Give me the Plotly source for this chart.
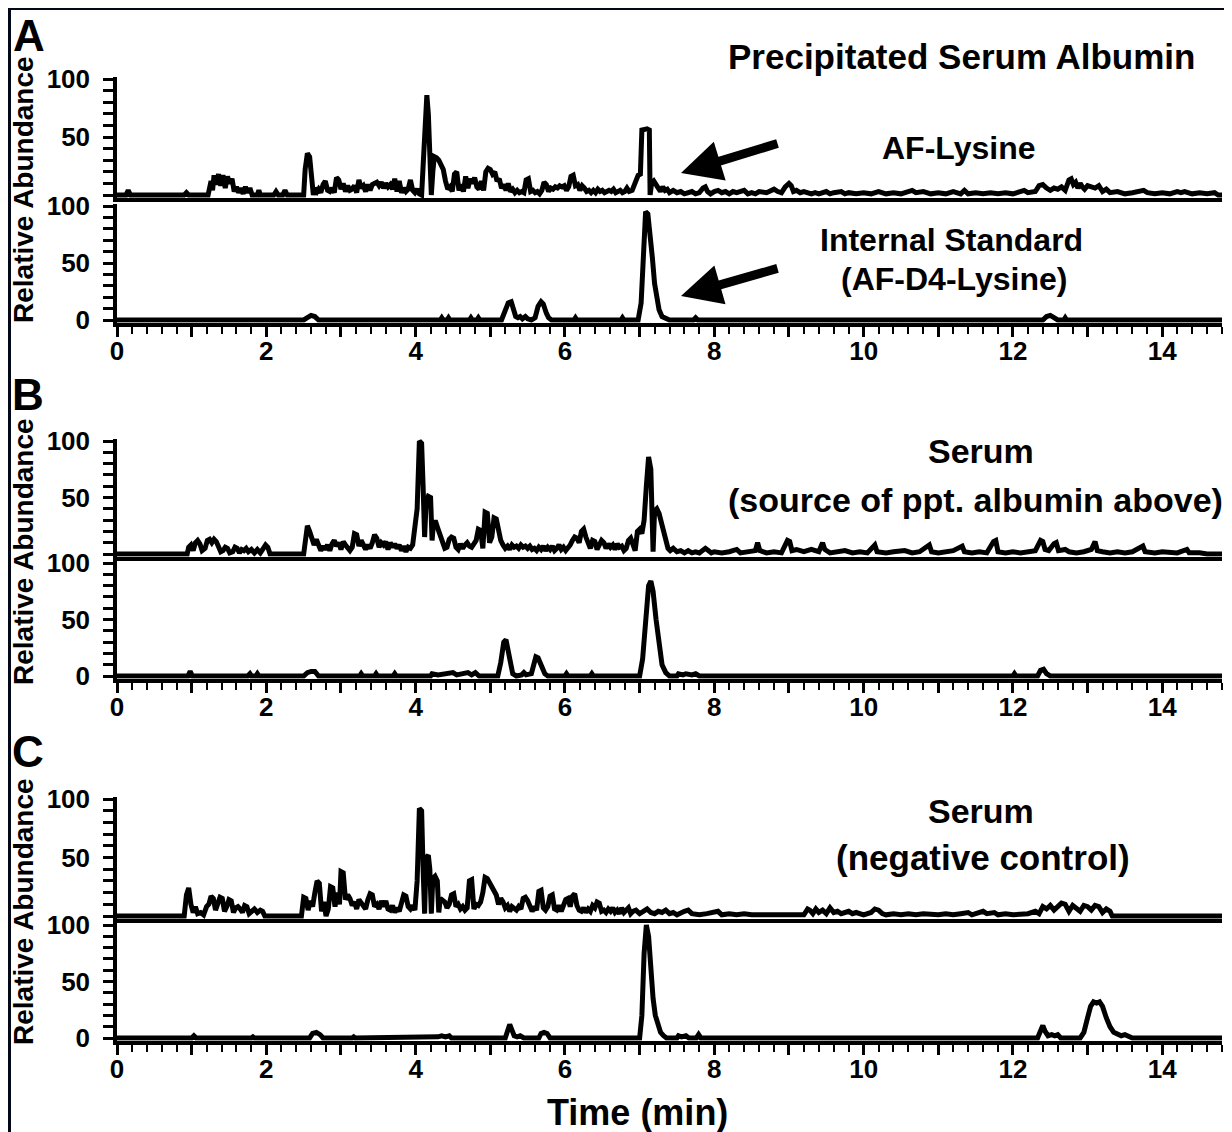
import plotly.graph_objects as go

# ---------------- data (time in min, relative abundance %) ----------------
A_analyte = [(0.0,0),(0.12,0),(0.15,4),(0.18,0),(0.9,0),(0.93,2),(0.96,0),(1.22,0),(1.26,12),(1.28,4),(1.3,17),(1.33,9),(1.36,18),
 (1.39,8),(1.42,17),(1.45,6),(1.48,16),(1.51,10),(1.54,14),(1.57,3),(1.6,7),(1.63,2),(1.66,6),(1.69,1),(1.72,7),(1.75,2),(1.78,6),
 (1.81,0),(1.88,0),(1.9,4),(1.92,0),(2.1,0),(2.13,3),(2.16,0),(2.22,0),(2.25,4),(2.28,0),(2.5,0),(2.52,22),(2.55,36),(2.58,33),
 (2.61,12),(2.63,0),(2.65,6),(2.68,3),(2.7,5),(2.73,2),(2.76,9),(2.79,12),(2.82,4),(2.85,3),(2.88,6),(2.91,2),(2.94,15),(2.97,13),
 (3.0,5),(3.03,10),(3.06,3),(3.09,8),(3.12,4),(3.15,5),(3.18,8),(3.21,2),(3.24,13),(3.27,6),(3.3,8),(3.33,3),(3.36,9),(3.39,4),
 (3.42,9),(3.45,10),(3.48,11),(3.51,8),(3.54,11),(3.57,6),(3.6,10),(3.63,7),(3.66,9),(3.69,5),(3.72,14),(3.75,3),(3.78,12),(3.81,2),
 (3.84,6),(3.87,3),(3.9,5),(3.93,13),(3.96,4),(3.99,2),(4.02,5),(4.05,1),(4.08,0),(4.1,25),(4.13,60),(4.15,86),(4.17,70),(4.19,40),
 (4.21,0),(4.23,20),(4.25,33),(4.28,32),(4.31,30),(4.34,26),(4.37,22),(4.4,12),(4.43,5),(4.46,7),(4.49,3),(4.52,18),(4.55,20),
 (4.58,4),(4.61,9),(4.64,3),(4.67,16),(4.7,6),(4.73,14),(4.76,10),(4.79,15),(4.82,7),(4.85,5),(4.88,12),(4.91,4),(4.94,20),(4.97,23),
 (5.0,22),(5.03,18),(5.06,20),(5.09,12),(5.12,14),(5.15,6),(5.18,9),(5.21,4),(5.24,10),(5.27,3),(5.3,5),(5.33,2),(5.36,4),(5.39,2),
 (5.42,3),(5.45,2),(5.48,13),(5.51,14),(5.54,3),(5.57,4),(5.6,2),(5.63,3),(5.66,1),(5.69,4),(5.72,11),(5.75,9),(5.78,3),(5.81,6),
 (5.84,5),(5.87,7),(5.9,6),(5.93,8),(5.96,7),(5.99,8),(6.02,4),(6.05,7),(6.08,16),(6.11,17),(6.14,8),(6.17,9),(6.2,4),(6.23,8),
 (6.26,6),(6.29,3),(6.32,4),(6.35,2),(6.38,4),(6.41,2),(6.44,5),(6.47,3),(6.5,4),(6.53,2),(6.56,3),(6.59,4),(6.62,3),(6.65,5),
 (6.68,2),(6.71,3),(6.74,4),(6.77,2),(6.8,3),(6.83,6),(6.86,3),(6.9,4),(6.95,12),(6.98,17),(7.01,18),(7.03,56),(7.1,57),(7.13,56),
 (7.14,0),(7.16,10),(7.19,12),(7.22,8),(7.25,6),(7.28,3),(7.31,7),(7.34,4),(7.37,5),(7.4,2),(7.45,4),(7.5,2),(7.55,3),(7.6,1),
 (7.7,3),(7.75,1),(7.8,2),(7.85,6),(7.88,7),(7.91,3),(7.95,1),(8.0,3),(8.05,4),(8.1,2),(8.15,3),(8.2,1),(8.25,3),(8.3,2),(8.4,4),
 (8.45,1),(8.5,2),(8.55,1),(8.6,3),(8.7,2),(8.8,5),(8.85,3),(8.9,2),(8.95,7),(9.0,10),(9.03,8),(9.06,3),(9.1,4),(9.15,2),(9.2,3),
 (9.3,1),(9.35,2),(9.4,1),(9.5,3),(9.55,1),(9.6,2),(9.7,3),(9.75,1),(9.8,2),(9.9,1),(10.0,2),(10.1,1),(10.2,3),(10.3,1),(10.4,2),
 (10.5,1),(10.6,3),(10.65,4),(10.7,2),(10.8,3),(10.9,1),(11.0,2),(11.1,1),(11.2,3),(11.3,1),(11.35,4),(11.4,1),(11.5,2),(11.6,1),
 (11.7,2),(11.8,1),(11.9,2),(12.0,1),(12.1,3),(12.15,4),(12.2,2),(12.3,3),(12.35,8),(12.4,9),(12.45,6),(12.5,4),(12.55,6),(12.6,5),
 (12.65,7),(12.7,4),(12.75,13),(12.78,14),(12.81,9),(12.84,11),(12.87,6),(12.9,10),(12.93,7),(12.96,5),(13.0,8),(13.05,7),(13.1,6),
 (13.15,8),(13.2,3),(13.25,5),(13.3,2),(13.4,3),(13.5,1),(13.6,2),(13.7,3),(13.75,4),(13.8,2),(13.9,1),(14.0,2),(14.1,1),(14.2,3),
 (14.25,2),(14.3,3),(14.4,1),(14.5,2),(14.6,1),(14.7,2),(14.75,0),(14.8,0)]

A_standard = [(0.0,0),(2.5,0),(2.55,2),(2.6,4),(2.65,3),(2.7,0),(4.33,0),(4.35,2),(4.37,0),(4.42,0),(4.44,2),(4.46,0),(4.72,0),
 (4.74,2),(4.76,0),(4.82,0),(4.84,2),(4.86,0),(5.15,0),(5.2,8),(5.24,15),(5.28,16),(5.31,10),(5.34,3),(5.37,2),(5.4,3),(5.43,1),
 (5.47,3),(5.5,1),(5.55,0),(5.6,2),(5.64,12),(5.68,16),(5.71,14),(5.75,6),(5.78,2),(5.82,0),(6.12,0),(6.14,2),(6.16,0),(6.75,0),
 (6.77,2),(6.79,0),(6.98,0),(7.02,15),(7.05,68),(7.08,95),(7.11,93),(7.14,78),(7.17,55),(7.2,32),(7.23,18),(7.26,9),(7.3,3),
 (7.35,1),(7.4,0),(7.72,0),(7.75,2),(7.78,0),(12.4,0),(12.45,3),(12.5,4),(12.55,2),(12.6,0),(12.68,0),(12.7,2),(12.72,0),(12.8,0),
 (12.82,1),(12.84,0),(14.8,0)]

B_analyte = [(0.0,0),(0.94,0),(0.96,6),(0.99,8),(1.02,3),(1.05,10),(1.08,12),(1.11,9),(1.14,3),(1.18,5),(1.21,12),(1.24,13),
 (1.27,10),(1.3,13),(1.33,11),(1.36,6),(1.39,2),(1.42,3),(1.45,6),(1.48,5),(1.51,1),(1.55,2),(1.58,6),(1.61,5),(1.64,1),(1.67,4),
 (1.7,3),(1.73,5),(1.76,2),(1.8,4),(1.84,1),(1.88,4),(1.92,1),(1.96,5),(1.99,8),(2.02,6),(2.05,0),(2.5,0),(2.52,12),(2.55,25),
 (2.58,20),(2.61,12),(2.64,8),(2.67,13),(2.7,6),(2.73,3),(2.76,7),(2.79,4),(2.82,8),(2.85,3),(2.88,9),(2.91,12),(2.94,7),(2.97,10),
 (3.0,4),(3.03,11),(3.06,8),(3.09,5),(3.12,3),(3.15,6),(3.18,18),(3.21,17),(3.24,7),(3.27,12),(3.3,9),(3.33,4),(3.36,8),(3.39,5),
 (3.42,10),(3.45,17),(3.48,14),(3.51,6),(3.54,10),(3.57,8),(3.6,11),(3.63,4),(3.66,10),(3.69,6),(3.72,9),(3.75,5),(3.78,8),(3.81,3),
 (3.84,7),(3.87,2),(3.9,6),(3.93,5),(3.96,8),(3.99,24),(4.02,40),(4.05,100),(4.08,98),(4.1,60),(4.12,15),(4.14,45),(4.17,51),
 (4.2,50),(4.22,12),(4.24,28),(4.27,28),(4.3,22),(4.33,15),(4.36,10),(4.39,5),(4.42,6),(4.45,13),(4.48,15),(4.51,14),(4.54,6),
 (4.57,4),(4.6,9),(4.63,5),(4.66,8),(4.69,10),(4.72,7),(4.75,6),(4.78,9),(4.81,12),(4.84,22),(4.87,21),(4.9,5),(4.93,37),(4.96,36),
 (4.99,10),(5.02,15),(5.05,32),(5.08,31),(5.11,20),(5.14,12),(5.17,8),(5.2,5),(5.23,7),(5.26,4),(5.29,8),(5.32,6),(5.35,7),(5.38,5),
 (5.41,8),(5.44,6),(5.47,7),(5.5,5),(5.53,7),(5.56,4),(5.59,5),(5.62,3),(5.65,6),(5.68,4),(5.71,7),(5.74,3),(5.77,6),(5.8,4),
 (5.83,7),(5.86,3),(5.89,5),(5.92,8),(5.95,4),(5.98,6),(6.01,3),(6.04,5),(6.07,8),(6.1,12),(6.13,15),(6.16,14),(6.19,10),(6.22,20),
 (6.25,22),(6.28,15),(6.31,8),(6.34,5),(6.37,12),(6.4,11),(6.43,4),(6.46,8),(6.49,12),(6.52,10),(6.55,5),(6.58,9),(6.61,6),(6.64,8),
 (6.67,4),(6.7,9),(6.73,6),(6.76,7),(6.79,3),(6.82,5),(6.85,12),(6.88,14),(6.91,8),(6.94,3),(6.97,20),(7.0,22),(7.03,18),(7.06,30),
 (7.09,60),(7.12,86),(7.15,75),(7.16,40),(7.18,2),(7.2,38),(7.23,40),(7.26,36),(7.29,28),(7.32,18),(7.35,10),(7.38,5),(7.41,3),
 (7.45,5),(7.5,2),(7.55,3),(7.6,1),(7.65,3),(7.7,1),(7.75,2),(7.8,1),(7.88,5),(7.92,3),(7.96,1),(8.0,2),(8.1,1),(8.2,2),(8.3,4),
 (8.35,1),(8.45,2),(8.55,3),(8.58,10),(8.61,3),(8.7,1),(8.8,2),(8.9,1),(8.98,12),(9.01,11),(9.04,3),(9.1,4),(9.2,2),(9.3,4),(9.4,2),
 (9.45,10),(9.48,4),(9.55,1),(9.65,2),(9.75,3),(9.85,1),(9.95,2),(10.05,1),(10.15,8),(10.18,2),(10.3,1),(10.4,2),(10.55,3),
 (10.65,1),(10.75,2),(10.88,8),(10.91,2),(11.0,1),(11.1,2),(11.2,3),(11.32,7),(11.35,2),(11.45,1),(11.55,2),(11.65,1),(11.74,11),
 (11.77,12),(11.8,2),(11.9,1),(12.0,2),(12.1,1),(12.2,2),(12.3,3),(12.37,12),(12.4,11),(12.43,4),(12.48,3),(12.55,9),(12.58,10),
 (12.61,3),(12.7,4),(12.75,2),(12.85,1),(12.95,2),(13.05,4),(13.1,11),(13.13,3),(13.2,2),(13.3,1),(13.4,2),(13.5,1),(13.6,2),
 (13.74,7),(13.77,2),(13.9,1),(14.0,2),(14.1,1),(14.2,1),(14.33,4),(14.36,1),(14.5,1),(14.6,0),(14.8,0)]

B_standard = [(0.0,0),(0.95,0),(0.98,4),(1.01,0),(1.75,0),(1.78,2),(1.8,0),(1.86,0),(1.88,2),(1.9,0),(2.5,0),(2.55,3),(2.6,4),
 (2.65,4),(2.7,0),(3.25,0),(3.27,2),(3.29,0),(3.45,0),(3.47,2),(3.49,0),(3.7,0),(3.72,2),(3.74,0),(4.2,0),(4.22,2),(4.3,1),(4.4,2),
 (4.5,3),(4.55,1),(4.6,2),(4.7,3),(4.75,1),(4.8,3),(4.85,0),(5.1,0),(5.14,12),(5.18,30),(5.21,32),(5.24,22),(5.27,8),(5.3,2),
 (5.35,0),(5.42,1),(5.45,3),(5.48,1),(5.55,2),(5.58,12),(5.61,17),(5.64,16),(5.67,12),(5.7,6),(5.73,2),(5.77,0),(6.0,0),(6.02,2),
 (6.04,0),(6.34,0),(6.36,2),(6.38,0),(7.0,0),(7.04,15),(7.08,55),(7.12,80),(7.15,84),(7.18,75),(7.22,50),(7.26,25),(7.3,10),
 (7.35,3),(7.4,0),(7.5,0),(7.52,2),(7.58,1),(7.62,2),(7.7,1),(7.75,2),(7.8,0),(12.0,0),(12.02,2),(12.04,0),(12.33,0),(12.37,5),
 (12.41,6),(12.45,2),(12.5,0),(14.8,0)]

C_analyte = [(0.0,0),(0.9,0),(0.93,18),(0.96,24),(0.99,10),(1.02,3),(1.05,8),(1.08,2),(1.12,3),(1.16,1),(1.2,8),(1.23,10),
 (1.26,17),(1.29,15),(1.32,5),(1.35,10),(1.38,16),(1.41,15),(1.44,4),(1.47,8),(1.5,14),(1.53,13),(1.56,3),(1.59,7),(1.62,8),
 (1.65,6),(1.68,3),(1.71,9),(1.74,8),(1.77,2),(1.8,4),(1.84,6),(1.88,3),(1.92,5),(1.95,4),(1.98,0),(2.47,0),(2.5,16),(2.53,15),
 (2.56,5),(2.59,13),(2.62,8),(2.65,20),(2.68,30),(2.71,28),(2.74,4),(2.77,12),(2.8,0),(2.83,6),(2.86,25),(2.89,24),(2.92,8),
 (2.95,20),(2.98,10),(3.0,38),(3.03,37),(3.06,14),(3.09,18),(3.12,15),(3.15,9),(3.18,12),(3.21,6),(3.24,14),(3.27,11),(3.3,8),
 (3.33,6),(3.36,14),(3.39,19),(3.42,18),(3.45,8),(3.48,10),(3.51,6),(3.54,13),(3.57,8),(3.6,13),(3.63,6),(3.66,5),(3.69,9),
 (3.72,3),(3.75,7),(3.78,4),(3.81,12),(3.84,18),(3.87,17),(3.9,8),(3.93,6),(3.96,9),(3.99,5),(4.02,30),(4.05,92),(4.08,90),
 (4.1,40),(4.12,2),(4.14,50),(4.17,52),(4.19,40),(4.21,2),(4.23,32),(4.26,34),(4.29,30),(4.31,3),(4.33,15),(4.36,14),(4.39,12),
 (4.42,7),(4.45,10),(4.48,18),(4.51,19),(4.54,8),(4.57,10),(4.6,6),(4.63,8),(4.66,5),(4.69,7),(4.72,30),(4.75,31),(4.78,6),
 (4.81,10),(4.84,9),(4.87,12),(4.9,20),(4.93,33),(4.96,32),(4.99,28),(5.02,24),(5.05,22),(5.08,18),(5.11,10),(5.14,15),(5.17,12),
 (5.2,7),(5.23,9),(5.26,4),(5.29,8),(5.32,6),(5.35,5),(5.38,8),(5.41,6),(5.44,15),(5.47,16),(5.5,13),(5.53,7),(5.56,4),(5.59,8),
 (5.62,5),(5.65,21),(5.68,22),(5.71,7),(5.74,5),(5.77,8),(5.8,17),(5.83,18),(5.86,6),(5.89,5),(5.92,9),(5.95,4),(5.98,8),(6.01,14),
 (6.04,15),(6.07,8),(6.1,17),(6.13,19),(6.16,9),(6.19,5),(6.22,4),(6.25,7),(6.28,3),(6.31,6),(6.34,4),(6.37,9),(6.4,7),(6.43,12),
 (6.46,11),(6.49,4),(6.52,5),(6.55,3),(6.58,6),(6.61,4),(6.64,7),(6.67,3),(6.7,5),(6.73,2),(6.76,7),(6.79,3),(6.82,5),(6.85,7),
 (6.88,2),(6.91,4),(6.95,5),(7.0,2),(7.05,4),(7.1,6),(7.15,3),(7.2,2),(7.25,4),(7.3,3),(7.35,5),(7.4,2),(7.45,3),(7.5,1),(7.6,4),
 (7.65,5),(7.7,2),(7.8,1),(7.9,2),(8.0,3),(8.05,4),(8.1,1),(8.2,2),(8.3,1),(8.4,2),(8.5,1),(8.6,1),(8.7,2),(8.8,1),(8.9,1),(9.0,1),
 (9.1,2),(9.2,1),(9.25,6),(9.28,5),(9.32,2),(9.36,6),(9.4,3),(9.45,5),(9.5,2),(9.55,7),(9.6,3),(9.65,4),(9.7,2),(9.75,3),(9.8,4),
 (9.85,2),(9.9,3),(10.0,1),(10.1,3),(10.15,6),(10.2,5),(10.25,2),(10.3,1),(10.4,2),(10.5,1),(10.6,2),(10.7,1),(10.8,2),(10.9,1),
 (11.0,1),(11.1,2),(11.2,1),(11.3,2),(11.4,3),(11.45,1),(11.55,3),(11.6,4),(11.65,2),(11.75,3),(11.8,1),(11.9,2),(12.0,1),(12.1,1),
 (12.2,2),(12.3,4),(12.35,2),(12.4,8),(12.45,6),(12.5,9),(12.55,5),(12.6,8),(12.65,11),(12.7,10),(12.75,4),(12.8,9),(12.85,7),
 (12.9,4),(12.95,9),(13.0,8),(13.05,5),(13.1,9),(13.15,8),(13.2,3),(13.25,6),(13.3,4),(13.33,0),(14.8,0)]

C_standard = [(0.0,0),(1.0,0),(1.03,2),(1.06,0),(1.8,0),(1.82,1),(1.84,0),(2.04,0),(2.06,1),(2.08,0),(2.58,0),(2.62,4),(2.67,5),
 (2.72,3),(2.76,0),(3.15,0),(3.17,1),(3.19,0),(4.28,0),(4.3,1),(4.35,2),(4.4,1),(4.45,2),(4.48,0),(5.2,0),(5.23,8),(5.26,12),
 (5.29,7),(5.32,2),(5.36,1),(5.4,2),(5.45,0),(5.65,0),(5.68,4),(5.72,5),(5.76,4),(5.8,0),(7.0,0),(7.03,20),(7.06,75),(7.09,100),
 (7.12,90),(7.15,60),(7.18,35),(7.21,20),(7.24,12),(7.28,5),(7.32,2),(7.36,0),(7.5,0),(7.52,2),(7.56,1),(7.62,2),(7.66,0),(7.76,0),
 (7.79,3),(7.82,0),(12.33,0),(12.37,8),(12.4,11),(12.43,6),(12.47,2),(12.52,3),(12.56,2),(12.6,3),(12.64,0),(12.9,0),(12.95,5),
 (13.0,18),(13.04,28),(13.08,32),(13.12,31),(13.16,32),(13.2,28),(13.25,18),(13.3,10),(13.35,5),(13.4,3),(13.45,2),(13.5,3),
 (13.55,1),(13.6,0),(14.8,0)]

x_ticks = list(range(0, 15))
x_ticktext = [str(v) if v % 2 == 0 else "" for v in x_ticks]
y_ticks = list(range(0, 101, 10))
y_ticktext_low = ["0", "", "", "", "", "50", "", "", "", "", "100"]
y_ticktext_up = ["", "", "", "", "", "50", "", "", "", "", "100"]
x_range = [0, 14.8]

panel_letters = ["A", "B", "C"]
panel_texts = [
    [("Precipitated Serum Albumin", 962, 57, 35), ("AF-Lysine", 959, 148, 32),
     ("Internal Standard", 951, 240, 32), ("(AF-D4-Lysine)", 954, 279, 32)],
    [("Serum", 981, 451, 34), ("(source of ppt. albumin above)", 975, 500, 34)],
    [("Serum", 981, 811, 34), ("(negative control)", 983, 857, 35)],
]

# ---------------- layout geometry (page pixels; the page shifts the figure by 8 px) ----------------
W, H = 1232, 1132
OFF = 8
L, R = 109, 18
PW = W - L - R
def fx(px): return (px - OFF - L) / PW
def fy(py): return 1 - (py - OFF) / H

# (page pixel of y=0, page pixel of y=100) for each of the 6 sub-panels
geo = [(195, 79), (320, 206), (554, 441), (676, 563), (916, 799), (1038, 925)]
YLO, YHI = -2.5, 102
series = [A_analyte, A_standard, B_analyte, B_standard, C_analyte, C_standard]

FONT = "Liberation Sans, Arial, sans-serif"
fig = go.Figure()
layout = {}
for i, (data, (p0, p100)) in enumerate(zip(series, geo)):
    n = i + 1
    t, v = zip(*data)
    fig.add_trace(go.Scatter(x=list(t), y=list(v), mode="lines",
                             line=dict(color="black", width=5),
                             xaxis=f"x{n}" if n > 1 else "x",
                             yaxis=f"y{n}" if n > 1 else "y",
                             showlegend=False, hoverinfo="skip"))
    u = (p0 - p100) / 100.0
    bottom = p0 + (-YLO) * u
    top = p100 - (YHI - 100) * u
    lower = (i % 2 == 1)
    xa = dict(domain=[0, 1], range=x_range, anchor=f"y{n}" if n > 1 else "y",
              showline=True, linecolor="black", linewidth=3.5, showgrid=False, zeroline=False,
              fixedrange=True)
    if lower:
        xa.update(tickmode="array", tickvals=x_ticks, ticktext=x_ticktext,
                  ticks="outside", ticklen=10, tickwidth=2.5, tickcolor="black",
                  ticklabelstandoff=-8,
                  tickfont=dict(family=FONT, size=26, color="black", weight="bold"),
                  minor=dict(dtick=0.2, tick0=0, ticks="outside", ticklen=7, tickwidth=2, tickcolor="black"))
    else:
        xa.update(showticklabels=False, ticks="")
    ya = dict(domain=[fy(bottom), fy(top)], range=[YLO, YHI], anchor=f"x{n}" if n > 1 else "x",
              showline=True, linecolor="black", linewidth=3.5, showgrid=False, zeroline=False,
              tickmode="array", tickvals=y_ticks,
              ticktext=y_ticktext_low if lower else y_ticktext_up,
              ticks="outside", ticklen=10, tickwidth=2.5, tickcolor="black",
              ticklabelstandoff=8,
              tickfont=dict(family=FONT, size=26, color="black", weight="bold"),
              fixedrange=True)
    layout["xaxis" if n == 1 else f"xaxis{n}"] = xa
    layout["yaxis" if n == 1 else f"yaxis{n}"] = ya

annotations = []
# panel letters (anchored by their top edge)
for letter, (px, py) in zip(panel_letters, [(29, 9), (28, 368), (28, 725)]):
    annotations.append(dict(text=f"<b>{letter}</b>", x=fx(px), y=fy(py), xref="paper", yref="paper",
                            showarrow=False, xanchor="center", yanchor="top",
                            font=dict(family=FONT, size=44, color="black")))
for py in [190, 552, 912]:
    annotations.append(dict(text="<b>Relative Abundance</b>", x=fx(23), y=fy(py), xref="paper", yref="paper",
                            showarrow=False, textangle=-90, xanchor="center", yanchor="middle",
                            font=dict(family=FONT, size=28, color="black")))
for group in panel_texts:
    for txt, px, py, sz in group:
        annotations.append(dict(text=f"<b>{txt}</b>", x=fx(px), y=fy(py), xref="paper", yref="paper",
                                showarrow=False, xanchor="center", yanchor="middle",
                                font=dict(family=FONT, size=sz, color="black")))
annotations.append(dict(text="<b>Time (min)</b>", x=fx(637), y=fy(1112), xref="paper", yref="paper",
                        showarrow=False, xanchor="center", yanchor="middle",
                        font=dict(family=FONT, size=36, color="black")))
for (hx, hy, tx, ty) in [(681, 173, 779, 143), (681, 296, 779, 268)]:
    annotations.append(dict(text="", x=fx(hx), y=fy(hy), xref="paper", yref="paper",
                            showarrow=True, ax=tx - hx, ay=ty - hy, arrowhead=2, arrowsize=0.9,
                            arrowwidth=9, arrowcolor="black", standoff=0))

shapes = [dict(type="rect", xref="paper", yref="paper", x0=fx(11), x1=fx(W + 30), y0=-0.05, y1=fy(10),
               fillcolor="white", line=dict(width=0), layer="below")]

fig.update_layout(**layout)
fig.update_layout(width=W, height=H, margin=dict(l=L, r=R, t=0, b=0, pad=0, autoexpand=False),
                  paper_bgcolor="#03071a", plot_bgcolor="rgba(0,0,0,0)",
                  annotations=annotations, shapes=shapes, showlegend=False,
                  font=dict(family=FONT, color="black"))
fig.write_html("out.html")
